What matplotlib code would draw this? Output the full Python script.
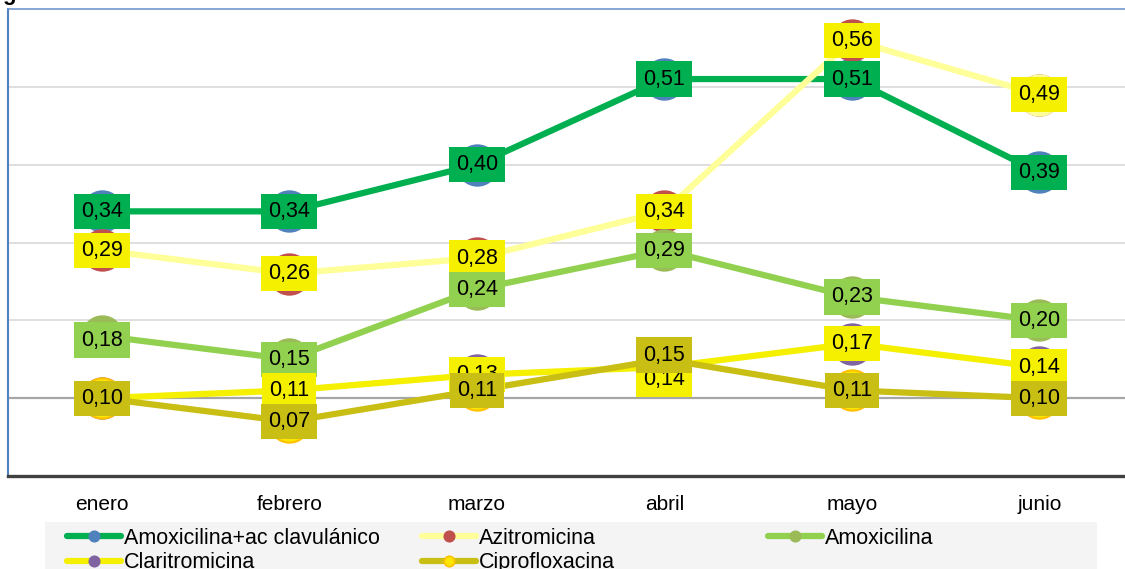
import matplotlib.pyplot as plt
from matplotlib.lines import Line2D
from matplotlib.patches import Rectangle

plt.rcParams['font.family'] = ['Liberation Sans', 'DejaVu Sans']

# consumo mensual por antibiótico
meses = ['enero', 'febrero', 'marzo', 'abril', 'mayo', 'junio']
amox_clav = [0.34, 0.34, 0.40, 0.51, 0.51, 0.39]
azitromicina = [0.29, 0.26, 0.28, 0.34, 0.56, 0.49]
amoxicilina = [0.18, 0.15, 0.24, 0.29, 0.23, 0.20]
claritromicina = [0.10, 0.11, 0.13, 0.14, 0.17, 0.14]
ciprofloxacina = [0.10, 0.07, 0.11, 0.15, 0.11, 0.10]

# nombre, valores, color línea, color marcador, borde marcador, fondo etiqueta
series = [
    ('Amoxicilina+ac clavulánico', amox_clav, '#00B050', '#4F81BD', '#4F81BD', '#00B050'),
    ('Azitromicina', azitromicina, '#FFFF99', '#C0504D', '#C0504D', '#F5EF00'),
    ('Amoxicilina', amoxicilina, '#92D050', '#9BBB59', '#9BBB59', '#92D050'),
    ('Claritromicina', claritromicina, '#F5EF00', '#8064A2', '#8064A2', '#F5EF00'),
    ('Ciprofloxacina', ciprofloxacina, '#C9BE14', '#FFE600', '#FFC000', '#C9BE14'),
]

# etiquetas que se apartan un poco del punto (en puntos tipográficos)
desplaz = {('Claritromicina', 3): -9, ('Ciprofloxacina', 3): 3, ('Amoxicilina', 0): -3}
# puntos con marcador de otro color
marcador_aparte = {('Azitromicina', 5): '#FFFF99'}

W, H = 1125, 569
fig = plt.figure(figsize=(W / 100, H / 100), dpi=100)
ax = fig.add_axes([8 / W, (H - 476) / H, 1125 / W, (476 - 9) / H])

x = list(range(len(meses)))
handles = []
for k, (nombre, vals, lc, mc, me, fc) in enumerate(series):
    ax.plot(x, vals, color=lc, lw=4.5, marker='o', ms=29, mfc=mc, mec=me,
            mew=1.5, zorder=3 + k, solid_capstyle='butt')
    for i, v in enumerate(vals):
        if (nombre, i) in marcador_aparte:
            c = marcador_aparte[(nombre, i)]
            ax.plot([i], [v], marker='o', ms=29, mfc=c, mec=c, mew=1.5,
                    ls='none', zorder=3 + k)
        dy = desplaz.get((nombre, i), 0)
        ax.annotate(f'{v:.2f}'.replace('.', ','), (i, v),
                    xytext=(0, dy), textcoords='offset points',
                    ha='center', va='center', fontsize=15.5, color='black',
                    bbox=dict(boxstyle='square,pad=0.33', fc=fc, ec='none'),
                    zorder=20 + k)
    handles.append(Line2D([], [], color=lc, lw=4.5, marker='o', ms=7.5,
                          mfc=mc, mec=me, mew=1.2, solid_capstyle='round'))

ax.set_xlim(-0.5, 5.5)
ax.set_ylim(0, 0.6)
ax.set_xticks(x)
ax.set_xticklabels(meses, fontsize=15)
ax.set_yticks([])
ax.tick_params(axis='x', length=0, pad=14)

for g in [0.2, 0.3, 0.4, 0.5]:
    ax.axhline(g, color='#D9D9D9', lw=1.2, zorder=1)
ax.axhline(0.1, color='#A6A6A6', lw=1.6, zorder=1)

ax.spines['right'].set_visible(False)
ax.spines['left'].set_color('#4F81BD')
ax.spines['left'].set_linewidth(1.5)
ax.spines['top'].set_color('#6F96CC')
ax.spines['top'].set_linewidth(1.2)
ax.spines['bottom'].set_color('#404040')
ax.spines['bottom'].set_linewidth(2.4)

# fondo de la leyenda
fig.add_artist(Rectangle((45 / W, 0), (1097 - 45) / W, (H - 522) / H,
                         transform=fig.transFigure, fc='#F4F4F4', ec='none', zorder=0))

nombres = [s[0] for s in series]
columnas = [([0, 3], 67), ([1, 4], 422), ([2], 768)]
for idx, xpix in columnas:
    fig.legend([handles[i] for i in idx], [nombres[i] for i in idx],
               loc='upper left', bbox_to_anchor=(xpix / W, 1 - 528 / H),
               frameon=False, fontsize=15.5, handlelength=2.5, handletextpad=0.15,
               labelspacing=0.15, borderpad=0, borderaxespad=0)

fig.text(2 / W, 1.0, 'g', fontsize=16, weight='bold', va='baseline')

fig.savefig('out.png', dpi=100)
